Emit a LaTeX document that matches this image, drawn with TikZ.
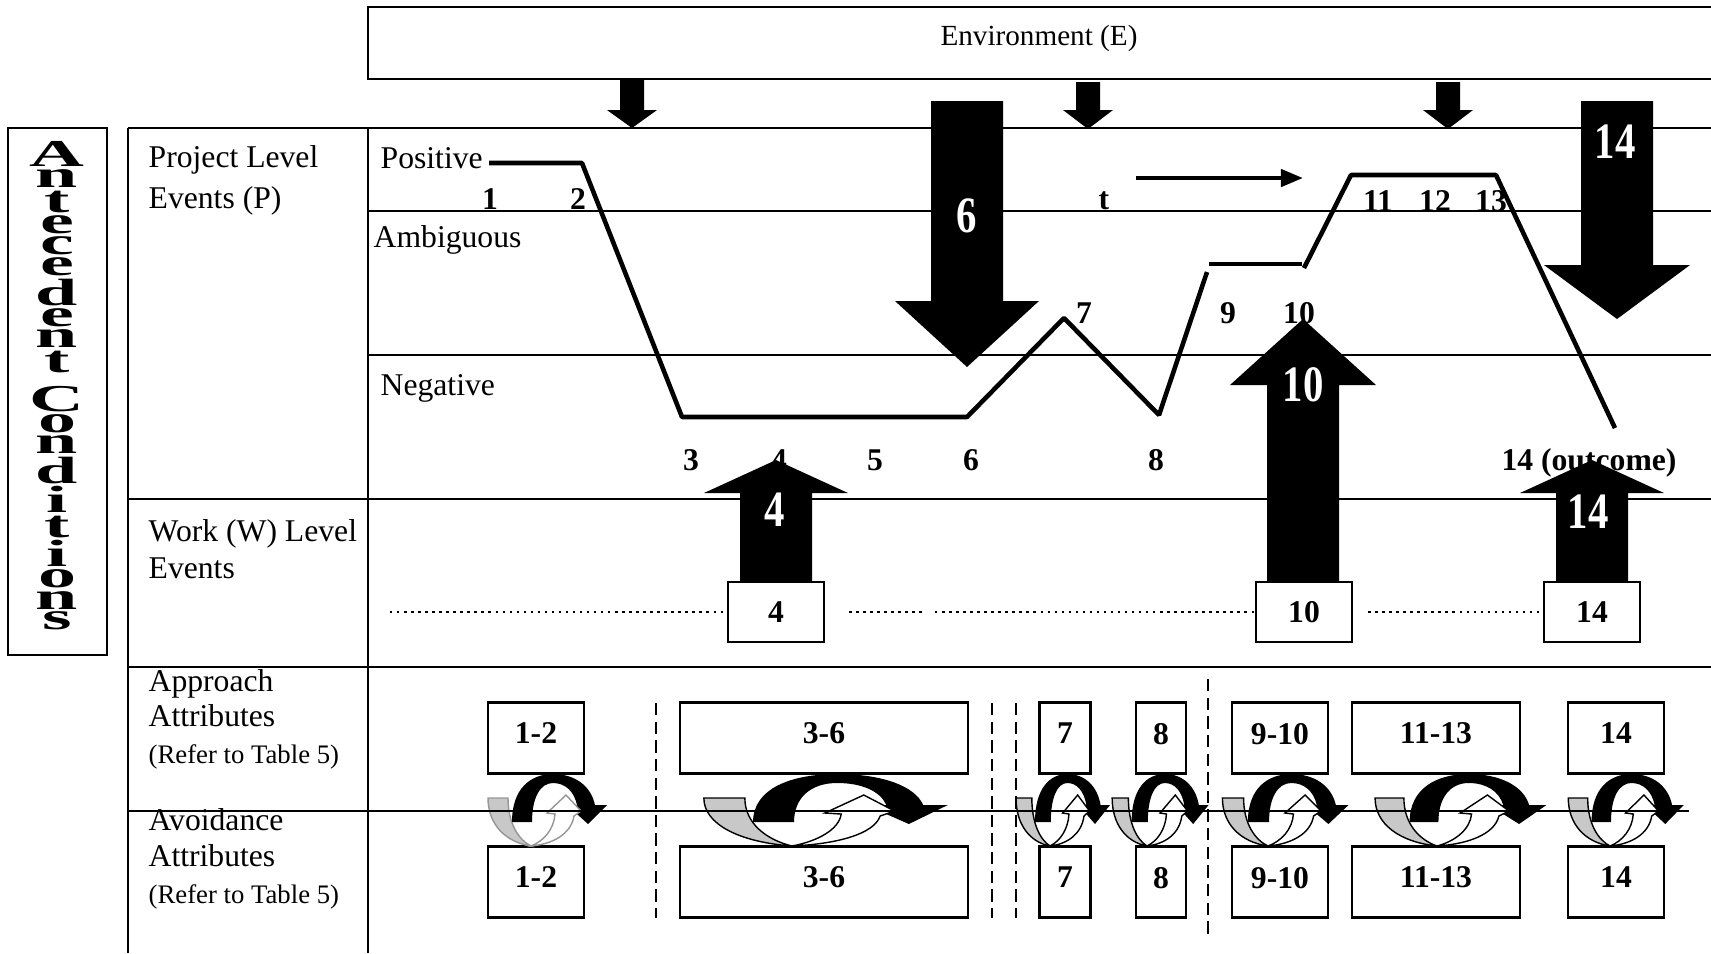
\documentclass[tikz,border=0pt]{standalone}
\usepackage{fontspec}
\setmainfont{Liberation Serif}
\usepackage{graphicx}
\usetikzlibrary{arrows.meta}
\definecolor{band_gray}{RGB}{200,200,200}
\definecolor{line_gray}{RGB}{150,150,150}
\newcommand{\letterstack}[1]{\vbox{\baselineskip=0pt\lineskip=0.85pt\lineskiplimit=0pt\halign{\hfil##\hfil\cr#1\crcr}}}

\begin{document}
\begin{tikzpicture}[x=0.01cm,y=-0.01cm,
	tableline/.style={line width=0.6pt},
	trajline/.style={line width=1.3pt,line join=bevel},
	dotline/.style={line width=0.7pt,dash pattern=on 0.7pt off 1.3pt},
	dashline/.style={line width=0.8pt,dash pattern=on 3.5pt off 1.8pt},
	rowlabel/.style={anchor=base west,inner sep=0pt,font=\fontsize{9}{11}\selectfont},
	reflabel/.style={anchor=base west,inner sep=0pt,font=\fontsize{7.6}{9}\selectfont},
	evnum/.style={anchor=base,inner sep=0pt,font=\fontsize{9}{11}\selectfont\bfseries},
	bignum/.style={inner sep=0pt,text=white,font=\fontsize{14.5}{16}\selectfont\bfseries},
	wbox/.style={draw,fill=white,line width=0.6pt,inner sep=0pt,minimum width=0.96cm,minimum height=0.6cm,font=\fontsize{9}{11}\selectfont\bfseries},
	attrbox/.style={draw,fill=white,line width=0.6pt,inner sep=0pt,minimum height=0.71cm,text depth=0.09cm,font=\fontsize{9}{11}\selectfont\bfseries}]
	\useasboundingbox (0,0) rectangle (1711,953);

	% frame of the table
	\draw[tableline] (368,7) rectangle (1730,79);
	\foreach \y/\xa/\xb in {128/128/1711,211/368/1711,355/368/1711,499/128/1711,667/128/1711}
		\draw[tableline] (\xa,\y) -- (\xb,\y);
	\draw[tableline] (128,128) -- (128,953);
	\draw[tableline] (368,128) -- (368,953);
	\draw[tableline] (8,128) rectangle (107,655);

	\node[inner sep=0pt,font=\fontsize{8.3}{10}\selectfont] (env) at (1039,38) {Environment (E)};
	\node[inner sep=0pt,font=\fontsize{10.8}{12}\selectfont\bfseries] (ac) at (57,386) {\scalebox{2}[1]{\letterstack{A\cr n\cr t\cr e\cr c\cr e\cr d\cr e\cr n\cr t\cr\noalign{\vskip3pt}C\cr o\cr n\cr d\cr i\cr t\cr i\cr o\cr n\cr s}}};

	% row labels
	\node[rowlabel] (pl1) at (148,167) {Project Level};
	\node[rowlabel] (pl2) at (148,208) {Events (P)};
	\node[rowlabel] (pos) at (380,168) {Positive};
	\node[rowlabel] (amb) at (373,247) {Ambiguous};
	\node[rowlabel] (neg) at (380,395) {Negative};
	\node[rowlabel] (wl1) at (148,541) {Work (W) Level};
	\node[rowlabel] (wl2) at (148,578) {Events};
	\node[rowlabel] (ap1) at (148,691) {Approach};
	\node[rowlabel] (ap2) at (148,726) {Attributes};
	\node[reflabel] (ap3) at (148,763) {(Refer to Table 5)};
	\node[rowlabel] (av1) at (148,830) {Avoidance};
	\node[rowlabel] (av2) at (148,866) {Attributes};
	\node[reflabel] (av3) at (148,903) {(Refer to Table 5)};

	% project level trajectory
	\draw[trajline] (489,163) -- (582,163) -- (682,417) -- (967,417) -- (1064,318) -- (1159,415) -- (1207,272);
	\draw[trajline] (1209,264) -- (1302,264);
	\draw[trajline] (1304,268) -- (1351,175) -- (1496,175) -- (1615,428);

	\foreach \nm/\px/\py in {1/490/209,2/578/209,3/691/470,4/779/470,5/875/470,6/971/470,7/1084/323,8/1156/470,9/1228/323,10/1299/323,11/1378/211,12/1435/211,13/1491/211}
		\node[evnum] (ev\nm) at (\px,\py) {\nm};
	\node[evnum] (evt) at (1104,209) {t};
	\node[evnum] (ev14) at (1589,470) {14 (outcome)};

	\coordinate (tstart) at (1136,178);
	\coordinate (tend) at (1303,178);
	\draw[line width=1.25pt,-{Triangle[length=0.22cm,width=0.17cm]}] (tstart) -- (tend);

	% block arrows
	\foreach \cx/\ya/\yb/\yc/\sw/\hw in {632/79/110/128/12/25,1088/82/110/129/12/25,1448/82/110/129/12/25,967/101/301/367/36/72,1617/101/265/319/36/73,776/582/493/460/36/72,1303/582/385/319/36/73,1592/582/493/460/36/72}
		\fill[black] (\cx-\sw,\ya) -- (\cx-\sw,\yb) -- (\cx-\hw,\yb) -- (\cx,\yc) -- (\cx+\hw,\yb) -- (\cx+\sw,\yb) -- (\cx+\sw,\ya) -- cycle;
	\node[bignum] (a6) at (967,216) {\scalebox{0.8}[1]{6}};
	\node[bignum] (a14p) at (1615,142) {\scalebox{0.8}[1]{14}};
	\node[bignum] (a4) at (775,510) {\scalebox{0.8}[1]{4}};
	\node[bignum] (a10) at (1303,385) {\scalebox{0.8}[1]{10}};
	\node[bignum] (a14w) at (1588,512) {\scalebox{0.8}[1]{14}};

	% work level events
	\node[wbox] (w4) at (776,612) {4};
	\node[wbox] (w10) at (1304,612) {10};
	\node[wbox] (w14) at (1592,612) {14};
	\coordinate (dotA) at (390,612);
	\coordinate (dotB) at (922,612);
	\coordinate (dotC) at (935,612);
	\draw[dotline] (dotA) -- (w4);
	\draw[dotline,shorten <=0.24cm] (w4) -- (dotB);
	\draw[dotline] (dotC) -- (w10);
	\draw[dotline,shorten <=0.15cm] (w10) -- (w14);

	% attribute boxes
	\foreach \nm/\cx/\bw/\txt in {12/536/96/1-2,36/824/288/3-6,7/1065/51/7,8/1161/50/8,910/1280/96/9-10,1113/1436/168/11-13,14/1616/96/14}{
		\node[attrbox,minimum width=\bw*0.01cm] (app\nm) at (\cx,738) {\txt};
		\node[attrbox,minimum width=\bw*0.01cm] (avd\nm) at (\cx,882) {\txt};
	}

	% cycles between approach and avoidance
	\foreach \mx/\xs/\oc in {531/1/line_gray,792/2.05/black,1050/0.79/black,1147/0.81/black,1268/1.06/black,1437/1.44/black,1610/0.97/black}{
		\begin{scope}[shift={(\mx,846)},xscale=\xs,line width=0.4pt]
			\filldraw[draw=\oc,fill=band_gray] (-43,-48) -- (-23,-48) .. controls (-23,-22) and (-12,-6) .. (0,0) .. controls (-26,-4) and (-43,-22) .. (-43,-48) -- cycle;
			\fill[black] (-19,-24) .. controls (-19,-58) and (0,-72) .. (22,-72) .. controls (44,-72) and (60,-60) .. (64,-41) -- (76,-41) -- (57,-22) -- (36,-41) -- (46,-41) .. controls (43,-55) and (34,-63) .. (22,-63) .. controls (9,-63) and (1,-48) .. (1,-24) -- cycle;
			\filldraw[draw=\oc,fill=white] (0,0) .. controls (22,-2) and (40,-12) .. (43,-30) -- (50,-35) -- (35,-51) -- (16,-33) -- (24,-32) .. controls (23,-17) and (13,-5) .. (0,0) -- cycle;
		\end{scope}
	}
	\draw[line width=0.5pt] (128,811) -- (1689,811);

	\foreach \x/\ya/\yb in {656/703/918,992/703/918,1016/703/918,1208/679/935}
		\draw[dashline] (\x,\ya) -- (\x,\yb);
\end{tikzpicture}
\end{document}
